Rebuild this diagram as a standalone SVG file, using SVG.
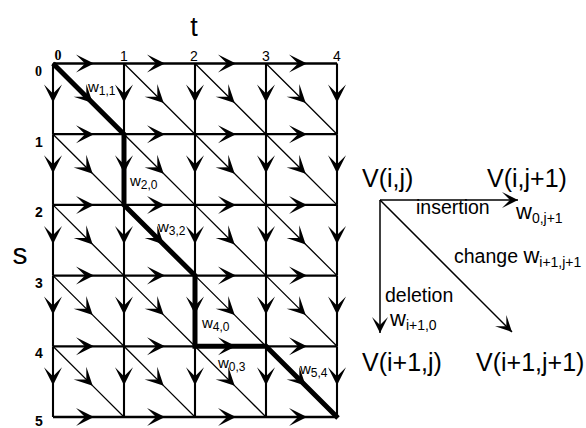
<svg xmlns="http://www.w3.org/2000/svg" width="586" height="428" viewBox="0 0 586 428">
<style>
.g{fill:none;stroke:#000;marker-mid:url(#ah)}
.h{stroke-width:2.3}
.v{stroke-width:2.1}
.d{stroke-width:1.3}
.thick{fill:none;stroke:#000;stroke-width:5}
text{font-family:"Liberation Sans",Arial,sans-serif;fill:#000}
.cl{font-size:14px;text-anchor:middle}
.rl{font-size:14px;font-weight:bold;text-anchor:middle}
.ser{font-family:"Liberation Serif","Times New Roman",serif;font-weight:bold}
.wl{font-size:15px}
.sub{font-size:12px}
.big{font-size:25px}
.leg{font-size:19.5px}
.lw{font-size:22px}
.ls{font-size:14px}
.la{fill:none;stroke:#000;stroke-width:1.5;marker-end:url(#ah2)}
</style>
<defs>
<marker id="ah" markerUnits="userSpaceOnUse" orient="auto" viewBox="-19 -10 20 20" refX="0" refY="0" markerWidth="20" markerHeight="20" overflow="visible">
<path d="M1,0 L-17,-9 L-8,0 L-17,9 Z" fill="#000"/>
</marker>
<marker id="ah2" markerUnits="userSpaceOnUse" orient="auto" viewBox="-19 -10 20 20" refX="0" refY="0" markerWidth="20" markerHeight="20" overflow="visible">
<path d="M0,0 L-16,-8 L-8,0 L-16,8 Z" fill="#000"/>
</marker>
</defs>
<g id="path-highlight">
<path class="thick" d="M53,63.5 L124,134.2 L124,204.9 L195,275.6 L195,346.3 L266,346.3 L338,418"/>
</g>
<g id="connectors">
<path class="g h" d="M53,63.5 L93,63.5 L124,63.5"/><path class="g h" d="M124,63.5 L164,63.5 L195,63.5"/><path class="g h" d="M195,63.5 L235,63.5 L266,63.5"/><path class="g h" d="M266,63.5 L306,63.5 L337,63.5"/>
<path class="g h" d="M53,134.2 L93,134.2 L124,134.2"/><path class="g h" d="M124,134.2 L164,134.2 L195,134.2"/><path class="g h" d="M195,134.2 L235,134.2 L266,134.2"/><path class="g h" d="M266,134.2 L306,134.2 L337,134.2"/>
<path class="g h" d="M53,204.9 L93,204.9 L124,204.9"/><path class="g h" d="M124,204.9 L164,204.9 L195,204.9"/><path class="g h" d="M195,204.9 L235,204.9 L266,204.9"/><path class="g h" d="M266,204.9 L306,204.9 L337,204.9"/>
<path class="g h" d="M53,275.6 L93,275.6 L124,275.6"/><path class="g h" d="M124,275.6 L164,275.6 L195,275.6"/><path class="g h" d="M195,275.6 L235,275.6 L266,275.6"/><path class="g h" d="M266,275.6 L306,275.6 L337,275.6"/>
<path class="g h" d="M53,346.3 L93,346.3 L124,346.3"/><path class="g h" d="M124,346.3 L164,346.3 L195,346.3"/><path class="g h" d="M195,346.3 L235,346.3 L266,346.3"/><path class="g h" d="M266,346.3 L306,346.3 L337,346.3"/>
<path class="g h" d="M53,417 L93,417 L124,417"/><path class="g h" d="M124,417 L164,417 L195,417"/><path class="g h" d="M195,417 L235,417 L266,417"/><path class="g h" d="M266,417 L306,417 L337,417"/>
<path class="g v" d="M53,63.5 L53,101.5 L53,134.2"/><path class="g v" d="M53,134.2 L53,172.2 L53,204.9"/><path class="g v" d="M53,204.9 L53,242.9 L53,275.6"/><path class="g v" d="M53,275.6 L53,313.6 L53,346.3"/><path class="g v" d="M53,346.3 L53,384.3 L53,417"/>
<path class="g v" d="M124,63.5 L124,101.5 L124,134.2"/><path class="g v" d="M124,134.2 L124,172.2 L124,204.9"/><path class="g v" d="M124,204.9 L124,242.9 L124,275.6"/><path class="g v" d="M124,275.6 L124,313.6 L124,346.3"/><path class="g v" d="M124,346.3 L124,384.3 L124,417"/>
<path class="g v" d="M195,63.5 L195,101.5 L195,134.2"/><path class="g v" d="M195,134.2 L195,172.2 L195,204.9"/><path class="g v" d="M195,204.9 L195,242.9 L195,275.6"/><path class="g v" d="M195,275.6 L195,313.6 L195,346.3"/><path class="g v" d="M195,346.3 L195,384.3 L195,417"/>
<path class="g v" d="M266,63.5 L266,101.5 L266,134.2"/><path class="g v" d="M266,134.2 L266,172.2 L266,204.9"/><path class="g v" d="M266,204.9 L266,242.9 L266,275.6"/><path class="g v" d="M266,275.6 L266,313.6 L266,346.3"/><path class="g v" d="M266,346.3 L266,384.3 L266,417"/>
<path class="g v" d="M337,63.5 L337,101.5 L337,134.2"/><path class="g v" d="M337,134.2 L337,172.2 L337,204.9"/><path class="g v" d="M337,204.9 L337,242.9 L337,275.6"/><path class="g v" d="M337,275.6 L337,313.6 L337,346.3"/><path class="g v" d="M337,346.3 L337,384.3 L337,417"/>
<path class="g d" d="M53,63.5 L92,102.3 L124,134.2"/><path class="g d" d="M124,63.5 L163,102.3 L195,134.2"/><path class="g d" d="M195,63.5 L234,102.3 L266,134.2"/><path class="g d" d="M266,63.5 L305,102.3 L337,134.2"/>
<path class="g d" d="M53,134.2 L92,173 L124,204.9"/><path class="g d" d="M124,134.2 L163,173 L195,204.9"/><path class="g d" d="M195,134.2 L234,173 L266,204.9"/><path class="g d" d="M266,134.2 L305,173 L337,204.9"/>
<path class="g d" d="M53,204.9 L92,243.7 L124,275.6"/><path class="g d" d="M124,204.9 L163,243.7 L195,275.6"/><path class="g d" d="M195,204.9 L234,243.7 L266,275.6"/><path class="g d" d="M266,204.9 L305,243.7 L337,275.6"/>
<path class="g d" d="M53,275.6 L92,314.4 L124,346.3"/><path class="g d" d="M124,275.6 L163,314.4 L195,346.3"/><path class="g d" d="M195,275.6 L234,314.4 L266,346.3"/><path class="g d" d="M266,275.6 L305,314.4 L337,346.3"/>
<path class="g d" d="M53,346.3 L92,385.1 L124,417"/><path class="g d" d="M124,346.3 L163,385.1 L195,417"/><path class="g d" d="M195,346.3 L234,385.1 L266,417"/><path class="g d" d="M266,346.3 L305,385.1 L337,417"/>
<path class="la" d="M380,200 L518,200"/>
<path class="la" d="M380,200 L380,333"/>
<path class="la" d="M380,200 L512,332"/>
</g>
<g id="axis-labels">
<text x="194" y="36" font-size="27" text-anchor="middle">t</text>
<text x="20" y="264" font-size="30" text-anchor="middle">s</text>
<text class="cl ser" x="58" y="60">0</text>
<text class="cl" x="124" y="61">1</text>
<text class="cl" x="194" y="61">2</text>
<text class="cl" x="266" y="61">3</text>
<text class="cl" x="337" y="61">4</text>
<text class="rl ser" x="38.5" y="76">0</text>
<text class="rl" x="39" y="147">1</text>
<text class="rl" x="39" y="217">2</text>
<text class="rl" x="39" y="288">3</text>
<text class="rl" x="39" y="358">4</text>
<text class="rl" x="39" y="426" font-size="13">5</text>
</g>
<g id="weights">
<text class="wl" x="88" y="92">w<tspan class="sub" dy="3">1,1</tspan></text>
<text class="wl" x="130" y="186">w<tspan class="sub" dy="3">2,0</tspan></text>
<text class="wl" x="158" y="232">w<tspan class="sub" dy="3">3,2</tspan></text>
<text class="wl" x="202" y="328">w<tspan class="sub" dy="3">4,0</tspan></text>
<text class="wl" x="218" y="368">w<tspan class="sub" dy="3">0,3</tspan></text>
<text class="wl" x="300" y="374">w<tspan class="sub" dy="3">5,4</tspan></text>
</g>
<g id="node-vij"><text class="big" x="362" y="187">V(i,j)</text></g>
<g id="node-vij1"><text class="big" x="487" y="187">V(i,j+1)</text></g>
<g id="node-vi1j"><text class="big" x="362" y="371">V(i+1,j)</text></g>
<g id="node-vi1j1"><text class="big" x="476" y="371">V(i+1,j+1)</text></g>
<g id="legend-labels">
<text class="leg" x="416" y="214">insertion</text>
<text class="lw" x="516" y="219">w<tspan class="ls" dy="4">0,j+1</tspan></text>
<text class="leg" x="454" y="263">change <tspan class="lw">w</tspan><tspan class="ls" dy="4">i+1,j+1</tspan></text>
<text class="leg" x="385" y="302">deletion</text>
<text class="lw" x="390" y="326">w<tspan class="ls" dy="4">i+1,0</tspan></text>
</g>
</svg>
